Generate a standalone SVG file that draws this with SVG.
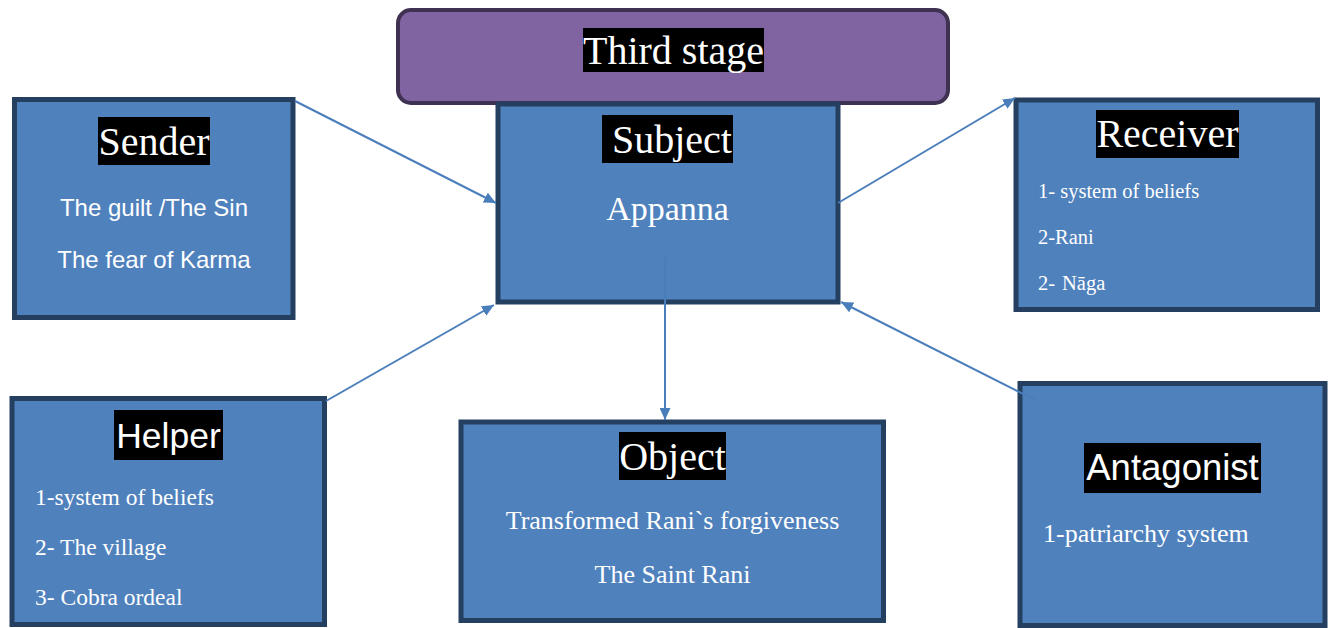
<svg xmlns="http://www.w3.org/2000/svg" width="1334" height="628" viewBox="0 0 1334 628">
<style>
.box{fill:#4F81BD;stroke:#243F60;stroke-width:5}
.hbg{fill:#000}
.serif{font-family:"Liberation Serif","Times New Roman",serif;fill:#fff}
.sans{font-family:"Liberation Sans",Arial,sans-serif;fill:#fff}
.hd{font-size:40px}
.conn{stroke:#4A7EBB;stroke-width:2;fill:none;marker-end:url(#ah)}
</style>
<defs>
<marker id="ah" markerUnits="userSpaceOnUse" markerWidth="13" markerHeight="11" refX="12" refY="5.5" orient="auto">
<path d="M0,0 L12,5.5 L0,11 z" fill="#4A7EBB"/>
</marker>
</defs>
<rect width="1334" height="628" fill="#fff"/>
<g id="title">
<rect x="398" y="10" width="550" height="93" rx="13" fill="#8064A2" stroke="#3F3151" stroke-width="4"/>
<rect class="hbg" x="583" y="28" width="181" height="44"/>
<text class="serif hd" x="673.5" y="64" text-anchor="middle">Third stage</text>
</g>
<g id="sender">
<rect class="box" x="14.5" y="99.5" width="278.5" height="218"/>
<rect class="hbg" x="98" y="117" width="112" height="48"/>
<text class="serif hd" x="154" y="155" text-anchor="middle">Sender</text>
<text class="sans" font-size="24" x="154" y="216" text-anchor="middle">The guilt /The Sin</text>
<text class="sans" font-size="24" x="154" y="268" text-anchor="middle">The fear of Karma</text>
</g>
<g id="subject">
<rect class="box" x="498" y="104" width="340" height="198"/>
<rect class="hbg" x="602" y="115" width="131" height="48"/>
<text class="serif hd" x="672" y="153" text-anchor="middle">Subject</text>
<text class="serif" font-size="34" x="667.5" y="220" text-anchor="middle">Appanna</text>
</g>
<g id="receiver">
<rect class="box" x="1016" y="100" width="301.5" height="209.5"/>
<rect class="hbg" x="1096" y="110" width="143" height="48"/>
<text class="serif hd" x="1167.5" y="147" text-anchor="middle">Receiver</text>
<text class="serif" font-size="20.5" x="1038" y="198">1- system of beliefs</text>
<text class="serif" font-size="20.5" x="1038" y="244">2-Rani</text>
<text class="serif" font-size="20.5" x="1038" y="290">2-</text>
<text class="serif" font-size="20.5" x="1062" y="290">Nāga</text>
</g>
<g id="helper">
<rect class="box" x="12" y="398.5" width="312.5" height="226"/>
<rect class="hbg" x="114" y="410" width="109" height="50"/>
<text class="sans" font-size="35.5" x="168.5" y="448" text-anchor="middle">Helper</text>
<text class="serif" font-size="23.5" x="35" y="505">1-system of beliefs</text>
<text class="serif" font-size="23.5" x="35" y="555">2- The village</text>
<text class="serif" font-size="23.5" x="35" y="605">3- Cobra ordeal</text>
</g>
<g id="object">
<rect class="box" x="461" y="422" width="422.5" height="198.5"/>
<rect class="hbg" x="619" y="432" width="107" height="48"/>
<text class="serif hd" x="672.5" y="470" text-anchor="middle">Object</text>
<text class="serif" font-size="26" x="672.5" y="529" text-anchor="middle">Transformed Rani`s forgiveness</text>
<text class="serif" font-size="26" x="672.5" y="583" text-anchor="middle">The Saint Rani</text>
</g>
<g id="antagonist">
<rect class="box" x="1020" y="383.5" width="305" height="242"/>
<rect class="hbg" x="1084" y="443" width="177" height="50"/>
<text class="sans" font-size="36.5" x="1172.5" y="480" text-anchor="middle">Antagonist</text>
<text class="serif" font-size="26" x="1043" y="542">1-patriarchy system</text>
</g>
<g id="connectors">
<line class="conn" x1="295" y1="101" x2="496" y2="203"/>
<line class="conn" x1="326" y1="401" x2="494" y2="305"/>
<line class="conn" x1="838" y1="203" x2="1015" y2="98"/>
<line class="conn" x1="665" y1="257" x2="665" y2="420"/>
<line class="conn" x1="1035" y1="400" x2="841" y2="302"/>
</g>
</svg>
